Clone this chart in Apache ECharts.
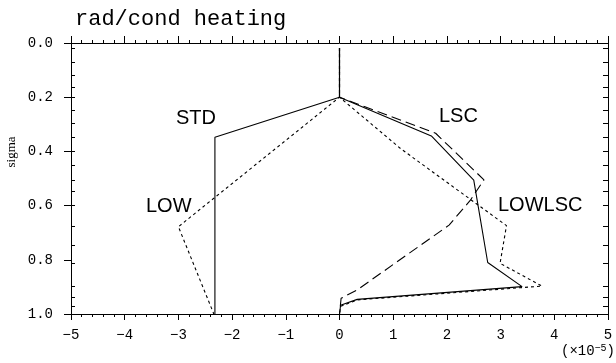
<!DOCTYPE html>
<html>
<head>
<meta charset="utf-8">
<script src="https://cdn.jsdelivr.net/npm/echarts@6/dist/echarts.min.js"></script>
<style>
html,body{margin:0;padding:0;background:#fff;}
#chart{width:616px;height:363px;}
</style>
</head>
<body>
<div id="chart"></div>
<script>
// Axis setup
var xTicks = [-5, 5, 1];          // min, max, interval  (units of 1e-5)
var yTicks = [0, 1, 0.2];         // sigma min, max, interval
var sigmaLevels = [0.018, 0.07, 0.12, 0.165, 0.2, 0.248, 0.295, 0.347, 0.4, 0.45, 0.506, 0.546, 0.598, 0.675, 0.745, 0.812, 0.897, 0.94, 0.97, 1.0];

// Series vertices (x in 1e-5 units, y = sigma)
var stdX     = [0, 0, -2.32, -2.32];
var stdSigma = [0.018, 0.2, 0.348, 1.0];

var lowX     = [0, 0, -3.0, -2.34];
var lowSigma = [0.018, 0.2, 0.678, 1.0];

var lscX     = [0, 0, 1.71, 2.50, 2.76, 3.40, 0.33, 0.02, 0];
var lscSigma = [0.018, 0.2, 0.343, 0.506, 0.81, 0.899, 0.946, 0.968, 1.0];

var lsc2X     = [0, 0, 1.79, 2.69, 2.43, 2.04, 0.33, 0.03, 0];
var lsc2Sigma = [0.018, 0.2, 0.333, 0.505, 0.582, 0.672, 0.911, 0.942, 1.0];

var lowlscX     = [0, 0, 1.14, 3.11, 2.99, 3.77, 0.33, 0.02, 0];
var lowlscSigma = [0.018, 0.2, 0.39, 0.674, 0.813, 0.897, 0.948, 0.972, 1.0];

function pairs(xs, ys){ return xs.map(function(v,i){ return [v, ys[i]]; }); }

var chart = echarts.init(document.getElementById('chart'), null, {renderer:'canvas'});
var mono = 'Liberation Mono';
function lineSeries(name, xs, ys, type){
  return {
    name: name, type: 'line', xAxisIndex: 0, yAxisIndex: 0,
    data: pairs(xs, ys), symbol: 'none', silent: true,
    lineStyle: {color: '#000', width: 1.1, type: type || 'solid', dashOffset: 0},
    z: 3
  };
}
var option = {
  animation: false,
  backgroundColor: '#fff',
  grid: {left: 71, right: 8, top: 43, bottom: 49},
  title: {
    text: 'rad/cond heating', left: 70, top: 3,
    textStyle: {fontFamily: mono, fontWeight: 'normal', fontSize: 22, color: '#000'}
  },
  xAxis: [{
    type: 'value', position: 'bottom', min: xTicks[0], max: xTicks[1], interval: xTicks[2],
    axisLine: {show: true, onZero: false, lineStyle: {color: '#000', width: 1}},
    axisTick: {show: true, inside: false, length: 6, lineStyle: {color: '#000'}},
    minorTick: {show: true, splitNumber: 5, length: 3, lineStyle: {color: '#000'}},
    splitLine: {show: false},
    axisLabel: {margin: 14, color: '#000', fontFamily: mono, fontSize: 14,
      formatter: function(v){ return v < 0 ? '\u2212' + Math.abs(v) : String(v); }}
  }, {
    type: 'value', position: 'top', min: xTicks[0], max: xTicks[1], interval: xTicks[2],
    axisLine: {show: true, onZero: false, lineStyle: {color: '#000', width: 1}},
    axisTick: {show: true, inside: false, length: 7, lineStyle: {color: '#000'}},
    minorTick: {show: true, splitNumber: 5, length: 3, lineStyle: {color: '#000'}},
    splitLine: {show: false}, axisLabel: {show: false}
  }],
  yAxis: [{
    type: 'value', position: 'left', inverse: true, min: yTicks[0], max: yTicks[1], interval: yTicks[2],
    axisLine: {show: true, onZero: false, lineStyle: {color: '#000', width: 1}},
    axisTick: {show: true, inside: false, length: 7, lineStyle: {color: '#000'}},
    splitLine: {show: false},
    axisLabel: {margin: 18, color: '#000', fontFamily: mono, fontSize: 14,
      formatter: function(v){ return v.toFixed(1); }}
  }, {
    type: 'value', position: 'left', inverse: true, min: yTicks[0], max: yTicks[1],
    axisLine: {show: false, onZero: false},
    axisTick: {show: true, inside: true, length: 4, customValues: sigmaLevels, lineStyle: {color: '#000'}},
    splitLine: {show: false}, axisLabel: {show: false}
  }, {
    type: 'value', position: 'right', inverse: true, min: yTicks[0], max: yTicks[1],
    axisLine: {show: true, onZero: false, lineStyle: {color: '#000', width: 1}},
    axisTick: {show: true, inside: true, length: 5, customValues: sigmaLevels, lineStyle: {color: '#000'}},
    splitLine: {show: false}, axisLabel: {show: false}
  }],
  series: [
    lineSeries('STD', stdX, stdSigma, 'solid'),
    lineSeries('LOW', lowX, lowSigma, [3, 3]),
    lineSeries('LSC', lscX, lscSigma, 'solid'),
    lineSeries('LSC2', lsc2X, lsc2Sigma, [10, 5]),
    lineSeries('LOWLSC', lowlscX, lowlscSigma, [3, 3])
  ],
  graphic: [
    {type: 'text', left: 176, top: 108, style: {text: 'STD', font: '20px "Liberation Sans"', fill: '#000'}},
    {type: 'text', left: 439, top: 106, style: {text: 'LSC', font: '20px "Liberation Sans"', fill: '#000'}},
    {type: 'text', left: 146, top: 196, style: {text: 'LOW', font: '20px "Liberation Sans"', fill: '#000'}},
    {type: 'text', left: 498, top: 195, style: {text: 'LOWLSC', font: '20px "Liberation Sans"', fill: '#000'}},
    {type: 'text', x: 12, y: 152, rotation: Math.PI / 2, style: {
      text: 'sigma', font: '13px "Liberation Serif"', fill: '#000', align: 'center', verticalAlign: 'middle'}},
    {type: 'text', right: 1, top: 343, style: {
      text: '(\u00d710{s|\u22125})',
      rich: {s: {fontSize: 10, fontFamily: mono, verticalAlign: 'top', padding: [0,0,6,0]}},
      font: '14px "Liberation Mono"', fill: '#000'}}
  ]
};
chart.setOption(option);
</script>
</body>
</html>
